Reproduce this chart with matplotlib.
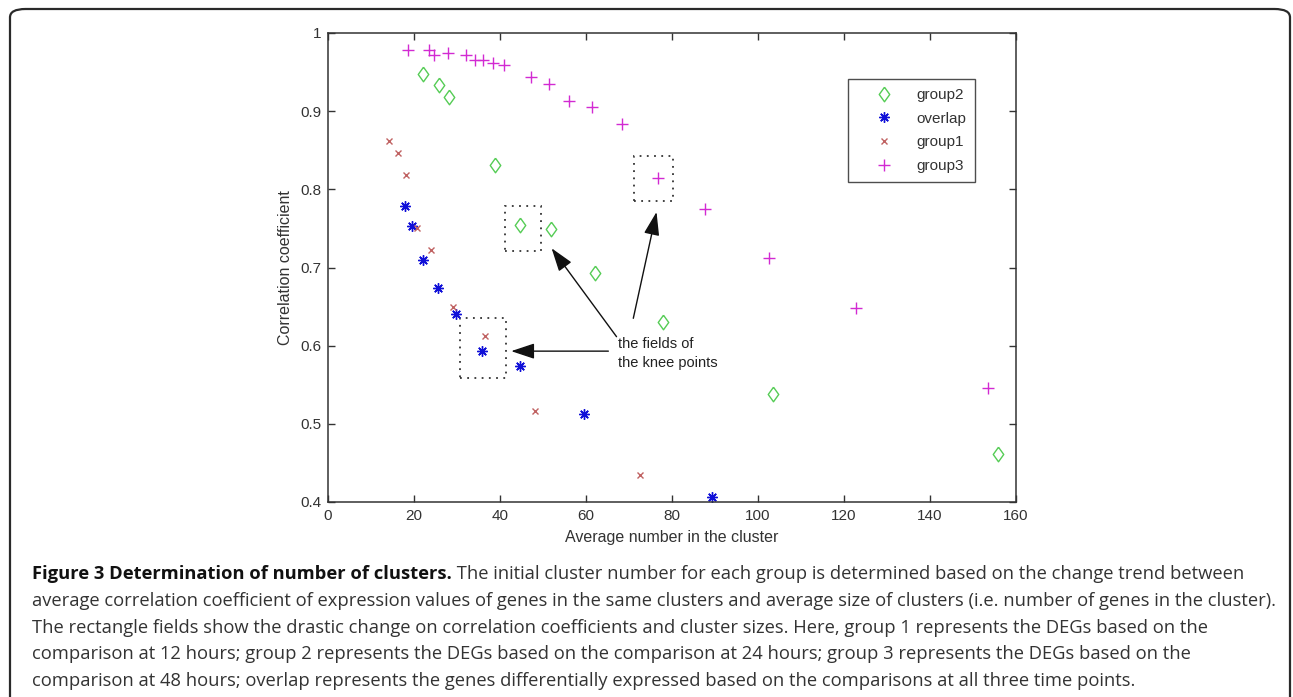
import matplotlib
matplotlib.use('Agg')
import matplotlib.pyplot as plt
from matplotlib.patches import FancyBboxPatch, Rectangle

# values
group2_x = [22.2, 25.8, 28.1, 38.9, 44.6, 51.9, 62.2, 77.8, 103.6, 155.7]
group2_y = [0.947, 0.934, 0.918, 0.831, 0.754, 0.749, 0.693, 0.630, 0.538, 0.461]
overlap_x = [17.8, 19.6, 22.2, 25.6, 29.8, 35.9, 44.6, 59.5, 89.3]
overlap_y = [0.779, 0.753, 0.710, 0.674, 0.640, 0.593, 0.574, 0.512, 0.406]
group1_x = [14.3, 16.2, 18.1, 20.8, 24.0, 29.1, 36.4, 48.2, 72.6]
group1_y = [0.862, 0.847, 0.818, 0.751, 0.723, 0.649, 0.613, 0.516, 0.435]
group3_x = [18.5, 23.5, 24.7, 27.9, 32.2, 34.3, 36.1, 38.4, 41.0, 47.2,
            51.3, 56.0, 61.5, 68.3, 76.7, 87.7, 102.5, 122.8, 153.6]
group3_y = [0.978, 0.978, 0.972, 0.975, 0.972, 0.966, 0.966, 0.962, 0.959, 0.944,
            0.935, 0.913, 0.905, 0.883, 0.815, 0.775, 0.712, 0.648, 0.546]

# knee point fields (x0, x1, y0, y1) and arrows (tail, head)
knee_boxes = [(30.7, 41.4, 0.559, 0.636), (41.2, 49.5, 0.7215, 0.779), (71.2, 80.2, 0.785, 0.843)]
knee_arrows = [((65.2, 0.593), (42.6, 0.593)),
               ((67.1, 0.6115), (52.0, 0.7246)),
               ((71.0, 0.635), (76.4, 0.771))]
knee_text = 'the fields of\nthe knee points'
knee_text_pos = (67.4, 0.590)

xticks = [0, 20, 40, 60, 80, 100, 120, 140, 160]
yticks = [0.4, 0.5, 0.6, 0.7, 0.8, 0.9, 1.0]
ytick_labels = ['0.4', '0.5', '0.6', '0.7', '0.8', '0.9', '1']

caption_bold = 'Figure 3 Determination of number of clusters.'
caption_lines = [
    ' The initial cluster number for each group is determined based on the change trend between',
    'average correlation coefficient of expression values of genes in the same clusters and average size of clusters (i.e. number of genes in the cluster).',
    'The rectangle fields show the drastic change on correlation coefficients and cluster sizes. Here, group 1 represents the DEGs based on the',
    'comparison at 12 hours; group 2 represents the DEGs based on the comparison at 24 hours; group 3 represents the DEGs based on the',
    'comparison at 48 hours; overlap represents the genes differentially expressed based on the comparisons at all three time points.',
]

W, H = 1293, 697
fig = plt.figure(figsize=(W / 100, H / 100), dpi=100)
fig.patch.set_facecolor('white')
renderer = fig.canvas.get_renderer()

# rounded frame around the whole figure (runs off the bottom)
frame = FancyBboxPatch((10 / W, -0.05), 1280 / W, 1 - 9 / H + 0.05,
                       boxstyle='round,pad=0,rounding_size=0.012',
                       transform=fig.transFigure, fill=False,
                       edgecolor='#2a2a2a', linewidth=1.6, clip_on=False)
fig.patches.append(frame)

ax = fig.add_axes([328 / W, 1 - 502 / H, 688 / W, 469 / H])
axfont = 'Liberation Sans'
tcol = '#333333'

diamond = [(0, 1), (0.72, 0), (0, -1), (-0.72, 0), (0, 1)]
ax.plot(group2_x, group2_y, linestyle='none', marker=diamond, markersize=10.5,
        mfc='none', mec='#55cc55', mew=1.0, label='group2')
ax.plot(overlap_x, overlap_y, linestyle='none', marker=(8, 2, 0), markersize=7.5,
        color='#1010d8', mew=1.0, label='overlap')
ax.plot(group1_x, group1_y, linestyle='none', marker='x', markersize=5,
        color='#c06262', mew=1.0, label='group1')
ax.plot(group3_x, group3_y, linestyle='none', marker='+', markersize=9,
        color='#d22ad2', mew=1.0, label='group3')

for x0, x1, y0, y1 in knee_boxes:
    ax.add_patch(Rectangle((x0, y0), x1 - x0, y1 - y0, fill=False,
                           edgecolor='#333333', linewidth=1.3, linestyle=(0, (1, 3))))

for tail, head in knee_arrows:
    ax.annotate('', xy=head, xytext=tail,
                arrowprops=dict(arrowstyle='-|>,head_length=0.9,head_width=0.3',
                                color='#111111', lw=1.0, mutation_scale=16,
                                shrinkA=0, shrinkB=0))

ax.text(knee_text_pos[0], knee_text_pos[1], knee_text, fontsize=10.5,
        family=axfont, color='#222222', va='center', ha='left', linespacing=1.45)

ax.set_xlim(0, 160)
ax.set_ylim(0.4, 1.0)
ax.set_xticks(xticks)
ax.set_xticklabels([str(v) for v in xticks])
ax.set_yticks(yticks)
ax.set_yticklabels(ytick_labels)
ax.tick_params(direction='in', length=5, width=1, top=True, right=True,
               colors='#333333', labelsize=11, pad=5)
for lab in ax.get_xticklabels() + ax.get_yticklabels():
    lab.set_family(axfont)
    lab.set_color(tcol)
for sp in ax.spines.values():
    sp.set_color('#333333')
    sp.set_linewidth(1.1)

ax.set_xlabel('Average number in the cluster', fontsize=11.5, family=axfont,
              color=tcol, labelpad=5)
ax.set_ylabel('Correlation coefficient', fontsize=11.5, family=axfont,
              color=tcol, labelpad=5)

leg = ax.legend(loc='upper left', bbox_to_anchor=((848 - 328) / 688, (502 - 79) / 469),
                prop={'family': axfont, 'size': 11}, frameon=True, fancybox=False,
                edgecolor='#222222', borderpad=0.6, handlelength=3.45,
                handletextpad=0.4, labelspacing=0.63, borderaxespad=0)
leg.get_frame().set_linewidth(1.0)
for t in leg.get_texts():
    t.set_color(tcol)

# caption: size chosen so the second line runs from x=32 to x=1277
cap_font = 'Open Sans'
cap_x = 32 / W
probe = fig.text(0, 0, caption_lines[1], family=cap_font, size=10)
cap_size = 10 * 1245 / probe.get_window_extent(renderer).width
probe.remove()

line_y = [574, 601, 628, 654, 681]
bold = fig.text(cap_x, 1 - line_y[0] / H, caption_bold, family=cap_font, size=cap_size,
                weight='bold', color='#111111', va='center', ha='left')
bb = bold.get_window_extent(renderer)
fig.text(bb.x1 / W, 1 - line_y[0] / H, caption_lines[0], family=cap_font, size=cap_size,
         color='#333333', va='center', ha='left')
for txt, yy in zip(caption_lines[1:], line_y[1:]):
    fig.text(cap_x, 1 - yy / H, txt, family=cap_font, size=cap_size,
             color='#333333', va='center', ha='left')

fig.savefig('out.png', dpi=100)
